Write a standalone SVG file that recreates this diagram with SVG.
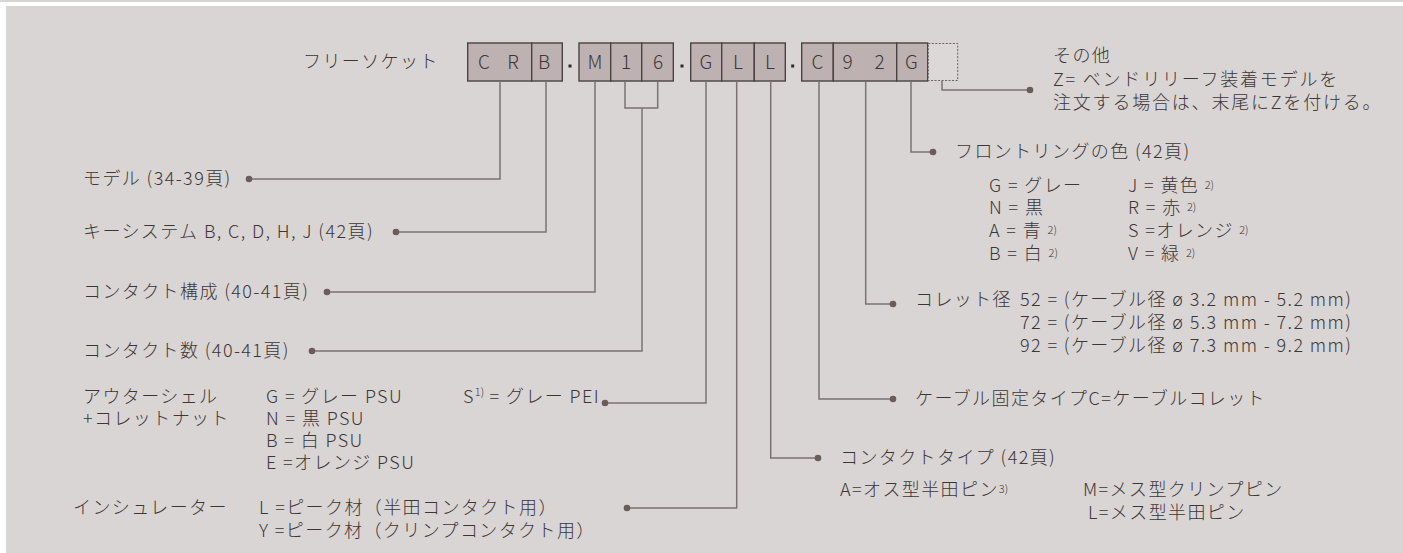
<svg xmlns="http://www.w3.org/2000/svg" width="1403" height="553" viewBox="0 0 1403 553">
<defs>
<style>
text{font-family:"Noto Sans CJK JP","Noto Sans",sans-serif;font-weight:300;fill:#3d3636;font-size:18px;letter-spacing:1.4px}
.bx{fill:#bdb2b1;stroke:#4a4242;stroke-width:1.4}
.bl{font-size:19px;text-anchor:middle;letter-spacing:0}
.ln{fill:none;stroke:#7b7373;stroke-width:1.5}
.dt{fill:#6b5c5c}
.sup{font-size:11px;letter-spacing:0}
</style>
</defs>
<rect x="0" y="0" width="1403" height="2" fill="#d9d5d4"/>
<rect x="6" y="6" width="1397" height="547" fill="#d9d5d4"/>

<g id="title"><text x="303" y="68">フリーソケット</text></g>

<g id="code">
<rect class="bx" x="467.7" y="43" width="64" height="38"/>
<rect class="bx" x="531.7" y="43" width="30.6" height="38"/>
<rect class="bx" x="579" y="43" width="31.7" height="38"/>
<rect class="bx" x="610.7" y="43" width="31" height="38"/>
<rect class="bx" x="641.7" y="43" width="31.6" height="38"/>
<rect class="bx" x="690.7" y="43" width="31" height="38"/>
<rect class="bx" x="721.7" y="43" width="32.6" height="38"/>
<rect class="bx" x="754.3" y="43" width="31" height="38"/>
<rect class="bx" x="801.7" y="43" width="31.6" height="38"/>
<rect class="bx" x="833.3" y="43" width="63.4" height="38"/>
<rect class="bx" x="896.7" y="43" width="31" height="38"/>
<rect x="928.3" y="43.5" width="29.4" height="37" fill="#dcd8d7" stroke="#6a6060" stroke-width="1" stroke-dasharray="2 1.5"/>
<rect x="568.5" y="64.5" width="3" height="3" fill="#2e2828"/>
<rect x="680.5" y="64.5" width="3" height="3" fill="#2e2828"/>
<rect x="791.2" y="64.5" width="3" height="3" fill="#2e2828"/>
<text class="bl" x="484" y="69">C</text>
<text class="bl" x="513" y="69">R</text>
<text class="bl" x="544" y="69">B</text>
<text class="bl" x="595" y="69">M</text>
<text class="bl" x="626" y="69">1</text>
<text class="bl" x="658" y="69">6</text>
<text class="bl" x="706" y="69">G</text>
<text class="bl" x="738" y="69">L</text>
<text class="bl" x="770" y="69">L</text>
<text class="bl" x="817.5" y="69">C</text>
<text class="bl" x="847.5" y="69">9</text>
<text class="bl" x="879.5" y="69">2</text>
<text class="bl" x="911.5" y="69">G</text>
</g>

<g id="connectors">
<path class="ln" d="M500,81V179H249"/>
<path class="ln" d="M546,81V232H396"/>
<path class="ln" d="M595,81V292H327"/>
<path class="ln" d="M625,81V108H657.7V81M642,108V351H312"/>
<path class="ln" d="M706,81V403H605"/>
<path class="ln" d="M736.7,81V508H627"/>
<path class="ln" d="M770.7,81V458H818"/>
<path class="ln" d="M819,81V399H893"/>
<path class="ln" d="M865.7,81V304H893"/>
<path class="ln" d="M911,81V152H933"/>
<path class="ln" d="M942,81V90H1030"/>
<circle class="dt" cx="249" cy="179" r="3.3"/>
<circle class="dt" cx="396" cy="232" r="3.3"/>
<circle class="dt" cx="327" cy="292" r="3.3"/>
<circle class="dt" cx="312" cy="351" r="3.3"/>
<circle class="dt" cx="605" cy="403" r="3.3"/>
<circle class="dt" cx="627" cy="508" r="3.3"/>
<circle class="dt" cx="818" cy="458" r="3.3"/>
<circle class="dt" cx="893" cy="399" r="3.3"/>
<circle class="dt" cx="893" cy="304" r="3.3"/>
<circle class="dt" cx="933" cy="152" r="3.3"/>
<circle class="dt" cx="1030" cy="90" r="3.3"/>
</g>

<g id="model"><text x="83" y="185">モデル (34-39頁)</text></g>
<g id="key"><text x="83" y="238">キーシステム B, C, D, H, J (42頁)</text></g>
<g id="config"><text x="83" y="298">コンタクト構成 (40-41頁)</text></g>
<g id="count"><text x="83" y="357">コンタクト数 (40-41頁)</text></g>
<g id="shell">
<text x="83" y="403">アウターシェル</text>
<text x="83" y="425">+コレットナット</text>
<text x="266" y="403">G = グレー PSU</text>
<text x="463" y="403">S<tspan class="sup" dy="-7">1)</tspan><tspan dy="7"> = グレー PEI</tspan></text>
<text x="266" y="425">N = 黒 PSU</text>
<text x="266" y="447">B = 白 PSU</text>
<text x="266" y="469">E =オレンジ PSU</text>
</g>
<g id="insulator">
<text x="73" y="514">インシュレーター</text>
<text x="259" y="514">L =ピーク材（半田コンタクト用）</text>
<text x="259" y="537">Y =ピーク材（クリンプコンタクト用）</text>
</g>

<g id="other">
<text x="1053" y="62">その他</text>
<text x="1053" y="86" style="letter-spacing:1.8px">Z= ベンドリリーフ装着モデルを</text>
<text x="1053" y="109" style="letter-spacing:1.8px">注文する場合は、末尾にZを付ける。</text>
</g>
<g id="ring">
<text x="955" y="158">フロントリングの色 (42頁)</text>
<text x="989" y="192">G = グレー</text>
<text x="989" y="214">N = 黒</text>
<text x="989" y="237">A = 青 <tspan class="sup" dy="-3">2)</tspan></text>
<text x="989" y="260">B = 白 <tspan class="sup" dy="-3">2)</tspan></text>
<text x="1128" y="192">J = 黄色 <tspan class="sup" dy="-3">2)</tspan></text>
<text x="1128" y="214">R = 赤 <tspan class="sup" dy="-3">2)</tspan></text>
<text x="1128" y="237">S =オレンジ <tspan class="sup" dy="-3">2)</tspan></text>
<text x="1128" y="260">V = 緑 <tspan class="sup" dy="-3">2)</tspan></text>
</g>
<g id="collet">
<text x="915" y="306">コレット径</text>
<text x="1020" y="306">52 = (ケーブル径 ø 3.2 mm - 5.2 mm)</text>
<text x="1020" y="329">72 = (ケーブル径 ø 5.3 mm - 7.2 mm)</text>
<text x="1020" y="352">92 = (ケーブル径 ø 7.3 mm - 9.2 mm)</text>
</g>
<g id="cable"><text x="915" y="405">ケーブル固定タイプC=ケーブルコレット</text></g>
<g id="contact">
<text x="840" y="464">コンタクトタイプ (42頁)</text>
<text x="840" y="496">A=オス型半田ピン<tspan class="sup" dy="-3">3)</tspan></text>
<text x="1083" y="496">M=メス型クリンプピン</text>
<text x="1088" y="519">L=メス型半田ピン</text>
</g>
</svg>
